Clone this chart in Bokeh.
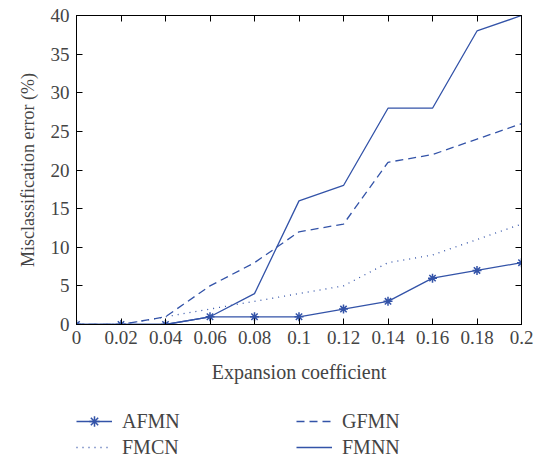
from bokeh.plotting import figure
from bokeh.layouts import column
from bokeh.models import LinearAxis, Legend, LegendItem, Range1d, FixedTicker, CustomJSTickFormatter
from bokeh.embed import file_html
from bokeh.resources import INLINE

x = [0, 0.02, 0.04, 0.06, 0.08, 0.1, 0.12, 0.14, 0.16, 0.18, 0.2]
afmn = [0, 0, 0, 1, 1, 1, 2, 3, 6, 7, 8]
gfmn = [0, 0, 1, 5, 8, 12, 13, 21, 22, 24, 26]
fmcn = [0, 0, 1, 2, 3, 4, 5, 8, 9, 11, 13]
fmnn = [0, 0, 0, 1, 4, 16, 18, 28, 28, 38, 40]
xticks = [0, 0.02, 0.04, 0.06, 0.08, 0.1, 0.12, 0.14, 0.16, 0.18, 0.2]
xtick_labels = {0: "0", 0.02: "0.02", 0.04: "0.04", 0.06: "0.06", 0.08: "0.08", 0.1: "0.1",
                0.12: "0.12", 0.14: "0.14", 0.16: "0.16", 0.18: "0.18", 0.2: "0.2"}
yticks = [0, 5, 10, 15, 20, 25, 30, 35, 40]

C = "#3353a8"
FONT = "Liberation Serif"

p = figure(frame_width=445, frame_height=309, output_backend="svg", toolbar_location=None,
           x_range=Range1d(0, 0.2), y_range=Range1d(0, 40),
           min_border_left=76, min_border_top=15, min_border_right=17, min_border_bottom=84)
p.grid.visible = False
p.outline_line_color = "black"
p.outline_line_width = 1

for ax in (p.xaxis[0], p.yaxis[0]):
    ax.major_tick_in = 6
    ax.major_tick_out = 0
    ax.minor_tick_line_color = None
    ax.major_label_text_font = FONT
    ax.major_label_text_font_size = "19px"
    ax.axis_label_text_font = FONT
    ax.axis_label_text_font_style = "normal"
    ax.axis_line_color = "black"

p.xaxis.axis_label_text_font_size = "20px"
p.yaxis.axis_label_text_font_size = "18px"
p.xaxis.ticker = FixedTicker(ticks=xticks)
p.xaxis.major_label_overrides = xtick_labels
p.yaxis.ticker = FixedTicker(ticks=yticks)
p.xaxis.axis_label = "Expansion coefficient"
p.yaxis.axis_label = "Misclassification error (%)"
p.xaxis.major_label_standoff = 6
p.yaxis.major_label_standoff = 7
p.xaxis.axis_label_standoff = 14
p.yaxis.axis_label_standoff = 10

blank = CustomJSTickFormatter(code="return '';")
top = LinearAxis(ticker=FixedTicker(ticks=xticks), formatter=blank,
                 major_tick_in=6, major_tick_out=0, minor_tick_line_color=None,
                 major_label_standoff=0)
right = LinearAxis(ticker=FixedTicker(ticks=yticks), formatter=blank,
                   major_tick_in=6, major_tick_out=0, minor_tick_line_color=None,
                   major_label_standoff=0)
p.add_layout(top, "above")
p.add_layout(right, "right")


def draw(fig):
    a = fig.line(x, afmn, line_color=C, line_width=1.3)
    am = fig.scatter(x, afmn, marker="asterisk", size=9, line_color=C, line_width=1.5)
    g = fig.line(x, gfmn, line_color=C, line_width=1.3, line_dash="8 5")
    f = fig.line(x, fmcn, line_color=C, line_width=1.3, line_dash="1 5")
    n = fig.line(x, fmnn, line_color=C, line_width=1.3)
    return a, am, g, f, n


draw(p)

# legend strip below the chart (its series lie outside its own visible range)
q = figure(width=538, height=52, output_backend="svg", toolbar_location=None,
           x_range=Range1d(0, 0.2), y_range=Range1d(1000, 1001),
           x_axis_type=None, y_axis_type=None,
           min_border_left=0, min_border_right=0, min_border_top=0, min_border_bottom=0)
q.grid.visible = False
q.outline_line_color = None
a, am, g, f, n = draw(q)

legend = Legend(items=[LegendItem(label="AFMN", renderers=[a, am]),
                       LegendItem(label="FMCN", renderers=[f]),
                       LegendItem(label="GFMN", renderers=[g]),
                       LegendItem(label="FMNN", renderers=[n])],
                ncols=2, nrows=2, label_text_font=FONT, label_text_font_size="20px",
                border_line_color=None, background_fill_alpha=0,
                glyph_width=36, glyph_height=26, label_width=174, label_height=26,
                spacing=0, padding=0, margin=0, label_standoff=10,
                location=(0, 0))
q.add_layout(legend, "center")

layout = column(p, q, spacing=0)
open("out.html", "w").write(file_html(layout, INLINE))
